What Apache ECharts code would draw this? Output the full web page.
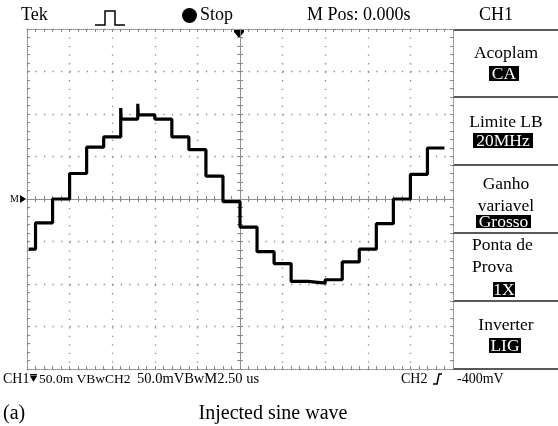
<!DOCTYPE html>
<html>
<head>
<meta charset="utf-8">
<script src="https://cdn.jsdelivr.net/npm/echarts/dist/echarts.min.js"></script>
<style>
html, body { margin: 0; background: #fff; }
#main { width: 558px; height: 426px; }
</style>
</head>
<body>
<div id="main"></div>
<script>
"use strict";
// start time of each DAC step (us) and the level it holds (mV)
// the two short entries at -7 and -6 are the glitch spikes on the rising edges
let stepTimes = [-12.4, -12, -11, -10, -9, -8, -7, -6.97, -6, -5.97, -5, -4, -3, -2, -1, 0, 1, 2, 3, 4, 5, 6, 7, 8, 9, 10, 11, 12];
let stepLevels = [-59, -28, 0, 30, 61, 73, 107, 94, 112, 99, 94, 73, 58, 27, -3, -33, -62, -76, -97, -99, -95, -74, -59, -29, 0, 29, 60, 60];

let xTicks = [-12.5, 12.5, 2.5];   // 2.50 us / div
let yTicks = [-200, 200, 50];      // 50.0 mV / div
let menuTitles = [["Acoplam"], ["Limite LB"], ["Ganho", "variavel"], ["Ponta de", "Prova"], ["Inverter"]];
let menuValues = ["CA", "20MHz", "Grosso", "1X", "LIG"];

let font = '"Liberation Serif", "Times New Roman", serif';
let gridCol = "#8a8a8a";

let myChart = echarts.init(document.getElementById('main'));

let waveData = [];
for (let i = 0; i < stepTimes.length; i++) {
    waveData.push([stepTimes[i], stepLevels[i]]);
}

function frameAxis(kind, pos, offset, inside, split) {
    return {
        type: 'value',
        position: pos,
        offset: offset,
        min: kind === 'x' ? xTicks[0] : yTicks[0],
        max: kind === 'x' ? xTicks[1] : yTicks[1],
        interval: kind === 'x' ? xTicks[2] : yTicks[2],
        axisLine: { show: true, onZero: false, lineStyle: { color: gridCol, width: 1, type: [1, 1] } },
        axisTick: { show: true, inside: inside, length: 3, lineStyle: { color: gridCol } },
        minorTick: { show: true, splitNumber: 5, length: 3, lineStyle: { color: gridCol } },
        axisLabel: { show: false },
        splitLine: { show: split, lineStyle: { color: gridCol, width: 1.3, type: [1.3, 7.22] } },
        minorSplitLine: { show: false }
    };
}

let graphics = [];
function txt(s, x, y, size, align, color) {
    graphics.push({
        type: 'text', x: x, y: y, silent: true,
        style: { text: s, font: size + 'px ' + font, fill: color || '#000', align: align || 'left', verticalAlign: 'middle' }
    });
}

// header
txt("Tek", 21, 15, 18);
graphics.push({ type: 'polyline', shape: { points: [[95, 25], [105, 25], [105, 11], [115, 11], [115, 25], [125, 25]] }, style: { stroke: '#000', lineWidth: 1.5, fill: null } });
graphics.push({ type: 'circle', shape: { cx: 189.5, cy: 15.5, r: 7.5 }, style: { fill: '#000' } });
txt("Stop", 200, 15, 18);
txt("M Pos: 0.000s", 307, 15, 18);
txt("CH1", 496, 15, 18, 'center');

// trigger position arrow and ground marker
graphics.push({ type: 'rect', shape: { x: 234, y: 30, width: 10, height: 2 }, style: { fill: '#000' } });
graphics.push({ type: 'polygon', shape: { points: [[234, 32], [244, 32], [239, 38]] }, style: { fill: '#000' } });
txt("M", 10, 199, 10);
graphics.push({ type: 'polygon', shape: { points: [[20, 195], [20, 203], [26, 199]] }, style: { fill: '#000' } });

// side menu
let lineYs = [30, 97, 165, 233, 301, 369];
for (let i = 0; i < lineYs.length; i++) {
    graphics.push({ type: 'line', shape: { x1: 453, y1: lineYs[i], x2: 558, y2: lineYs[i] }, style: { stroke: '#222', lineWidth: 1.4 } });
}
let titleYs = [[53], [122], [184, 206], [245, 267], [325]];
let boxes = [[489, 66, 30, 15], [473, 133, 60, 15], [476, 215, 55, 13], [493, 282, 22, 15], [489, 338, 32, 15]];
for (let i = 0; i < menuTitles.length; i++) {
    for (let j = 0; j < menuTitles[i].length; j++) {
        let t = menuTitles[i][j];
        if (i === 3) {
            txt(t, 472, titleYs[i][j], 17.5);
        } else {
            txt(t, 506, titleYs[i][j], 17.5, 'center');
        }
    }
    let b = boxes[i];
    graphics.push({ type: 'rect', shape: { x: b[0], y: b[1], width: b[2], height: b[3] }, style: { fill: '#000' } });
    txt(menuValues[i], b[0] + b[2] / 2, b[1] + b[3] / 2 + 0.5, 17.5, 'center', '#fff');
}

// status line
txt("CH1", 3, 379, 14);
graphics.push({ type: 'rect', shape: { x: 30, y: 374, width: 7, height: 1.5 }, style: { fill: '#000' } });
graphics.push({ type: 'polygon', shape: { points: [[30, 376], [37, 376], [33.5, 382]] }, style: { fill: '#000' } });
txt("50.0m VBwCH2", 39, 379, 13.5);
txt("50.0mVBwM2.50 us", 137, 379, 14.5);
txt("CH2", 401, 379, 14);
graphics.push({ type: 'polyline', shape: { points: [[433, 384], [437, 384], [439, 374], [442, 374]] }, style: { stroke: '#000', lineWidth: 1.5, fill: null } });
txt("-400mV", 457, 379, 14);

// caption
txt("(a)", 3, 414, 20);
txt("Injected sine wave", 273, 414, 20, 'center');

let option = {
    animation: false,
    backgroundColor: '#fff',
    grid: { left: 27, top: 29, width: 426, height: 340, show: false },
    xAxis: [
        frameAxis('x', 'bottom', 0, true, true),
        frameAxis('x', 'top', 0, true, false),
        frameAxis('x', 'bottom', -170, true, false),
        frameAxis('x', 'bottom', -170, false, false)
    ],
    yAxis: [
        frameAxis('y', 'left', 0, true, true),
        frameAxis('y', 'right', 0, true, false),
        frameAxis('y', 'left', -213, true, false),
        frameAxis('y', 'left', -213, false, false)
    ],
    series: [{
        name: 'CH1',
        type: 'line',
        step: 'end',
        symbol: 'none',
        data: waveData,
        lineStyle: { color: '#000', width: 3.2 },
        z: 5
    }],
    graphic: graphics
};
myChart.setOption(option);
</script>
</body>
</html>
